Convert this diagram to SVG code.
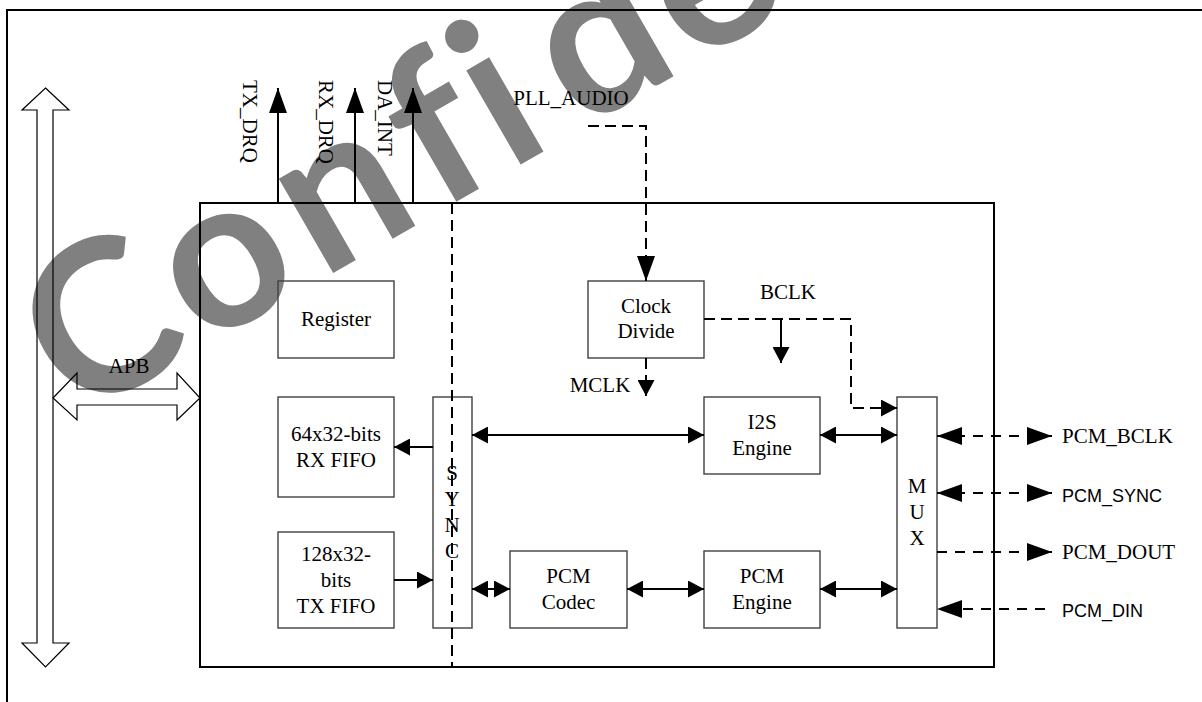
<svg xmlns="http://www.w3.org/2000/svg" width="1202" height="702" viewBox="0 0 1202 702">
<style>
  .t{font-family:"Liberation Serif","Times New Roman",serif;font-size:21px;fill:#000}
  .s{font-family:"Liberation Sans",Arial,sans-serif;font-size:18px;fill:#000}
  .c{text-anchor:middle}
  .box{fill:none;stroke:#404040;stroke-width:1.4}
  .frame{fill:none;stroke:#000;stroke-width:2}
  .ln{fill:none;stroke:#000;stroke-width:2}
  .dash{fill:none;stroke:#000;stroke-width:2;stroke-dasharray:11,6}
  .dash2{fill:none;stroke:#000;stroke-width:2;stroke-dasharray:10,8}
  .hollow{fill:none;stroke:#000;stroke-width:1.2}
  .wm text{font-family:Lato,"Noto Sans",sans-serif;font-size:212px;font-weight:bold;fill:#808080;text-anchor:middle}
</style>
<defs>
  <marker id="a" viewBox="0 0 16 17" refX="16" refY="8.5" markerWidth="16" markerHeight="17" markerUnits="userSpaceOnUse" orient="auto-start-reverse"><path d="M0,0 L16,8.5 L0,17 z" fill="#000"/></marker>
  <marker id="A" viewBox="0 0 25 18" refX="25" refY="9" markerWidth="25" markerHeight="18" markerUnits="userSpaceOnUse" orient="auto-start-reverse"><path d="M0,0 L25,9 L0,18 z" fill="#000"/></marker>
</defs>
<rect width="1202" height="702" fill="#fff"/>
<g class="wm" transform="translate(113,400) rotate(-30)">
  <text x="27" y="0">C</text>
  <text x="165" y="0">o</text>
  <text x="301" y="0">n</text>
  <text x="414" y="0">f</text>
  <text x="484" y="0">i</text>
  <text x="600" y="0">d</text>
  <text x="725" y="0">e</text>
  <text x="850" y="0">n</text>
  <text x="955" y="0">t</text>
  <text x="1030" y="0">i</text>
  <text x="1120" y="0">a</text>
  <text x="1215" y="0">l</text>
</g>

<path class="frame" d="M7,702 V10 H1202"/>

<g id="bus">
  <polygon class="hollow" points="45.5,88 69,110 53,110 53,643 69,643 45.5,667 22,643 37,643 37,110 22,110"/>
</g>
<g id="apb">
  <polygon class="hollow" points="53,398 77,373 77,389 177,389 177,373 200,398 177,420 177,405 77,405 77,420"/>
  <text class="t c" x="129" y="373">APB</text>
</g>
<g id="main"><rect class="frame" x="200" y="203" width="794" height="464"/></g>

<g id="register"><rect class="box" x="278" y="281" width="116" height="77"/><text class="t c" x="336" y="326">Register</text></g>
<g id="rxfifo"><rect class="box" x="278" y="397" width="116" height="100"/><text class="t c" x="336" y="441">64x32-bits</text><text class="t c" x="336" y="467">RX FIFO</text></g>
<g id="txfifo"><rect class="box" x="278" y="532" width="116" height="96"/><text class="t c" x="336" y="561">128x32-</text><text class="t c" x="336" y="587">bits</text><text class="t c" x="336" y="613">TX FIFO</text></g>
<g id="sync"><rect class="box" x="433" y="397" width="39" height="231"/><text class="t c" x="452" y="480">S</text><text class="t c" x="452" y="506">Y</text><text class="t c" x="452" y="532">N</text><text class="t c" x="452" y="558">C</text></g>
<g id="clockdiv"><rect class="box" x="588" y="281" width="116" height="77"/><text class="t c" x="646" y="313">Clock</text><text class="t c" x="646" y="338">Divide</text></g>
<g id="i2s"><rect class="box" x="704" y="397" width="116" height="77"/><text class="t c" x="762" y="429">I2S</text><text class="t c" x="762" y="455">Engine</text></g>
<g id="pcmcodec"><rect class="box" x="510" y="551" width="117" height="77"/><text class="t c" x="568.5" y="583">PCM</text><text class="t c" x="568.5" y="609">Codec</text></g>
<g id="pcmengine"><rect class="box" x="704" y="551" width="116" height="77"/><text class="t c" x="762" y="583">PCM</text><text class="t c" x="762" y="609">Engine</text></g>
<g id="mux"><rect class="box" x="897" y="397" width="40" height="231"/><text class="t c" x="917" y="493">M</text><text class="t c" x="917" y="519">U</text><text class="t c" x="917" y="545">X</text></g>

<g id="connectors">
  <path class="dash" d="M452,203 V667"/>
  <path class="ln" d="M278,203 V88" marker-end="url(#A)"/>
  <path class="ln" d="M355,203 V88" marker-end="url(#A)"/>
  <path class="ln" d="M413,203 V88" marker-end="url(#A)"/>
  <path class="dash" d="M588,126 H646 V281" marker-end="url(#A)"/>
  <path class="dash" d="M646,358 V396" marker-end="url(#a)"/>
  <path class="dash" d="M704,319 H851 V408 H897" marker-end="url(#a)"/>
  <path class="ln" d="M781,319 V363" marker-end="url(#a)"/>
  <path class="ln" d="M433,447 H394" marker-end="url(#a)"/>
  <path class="ln" d="M394,580 H433" marker-end="url(#a)"/>
  <path class="ln" d="M472,435 H704" marker-start="url(#a)" marker-end="url(#a)"/>
  <path class="ln" d="M820,435 H897" marker-start="url(#a)" marker-end="url(#a)"/>
  <path class="ln" d="M472,589 H510" marker-start="url(#a)" marker-end="url(#a)"/>
  <path class="ln" d="M627,589 H704" marker-start="url(#a)" marker-end="url(#a)"/>
  <path class="ln" d="M820,589 H897" marker-start="url(#a)" marker-end="url(#a)"/>
  <path class="dash2" d="M937,436 H1052" marker-start="url(#A)" marker-end="url(#A)"/>
  <path class="dash2" d="M937,493 H1052" marker-start="url(#A)" marker-end="url(#A)"/>
  <path class="dash2" d="M937,552 H1052" marker-end="url(#A)"/>
  <path class="dash2" d="M1045,609 H937" marker-end="url(#A)"/>
</g>

<g id="labels">
  <text class="t" transform="translate(243,80) rotate(90)">TX_DRQ</text>
  <text class="t" transform="translate(319,80) rotate(90)">RX_DRQ</text>
  <text class="t" transform="translate(378,80) rotate(90)">DA_INT</text>
  <text class="t c" x="571" y="105">PLL_AUDIO</text>
  <text class="t c" x="600" y="392">MCLK</text>
  <text class="t c" x="788" y="299">BCLK</text>
  <text class="t" x="1062" y="443">PCM_BCLK</text>
  <text class="s" x="1062" y="502">PCM_SYNC</text>
  <text class="t" x="1062" y="559">PCM_DOUT</text>
  <text class="s" x="1062" y="617">PCM_DIN</text>
</g>
</svg>
